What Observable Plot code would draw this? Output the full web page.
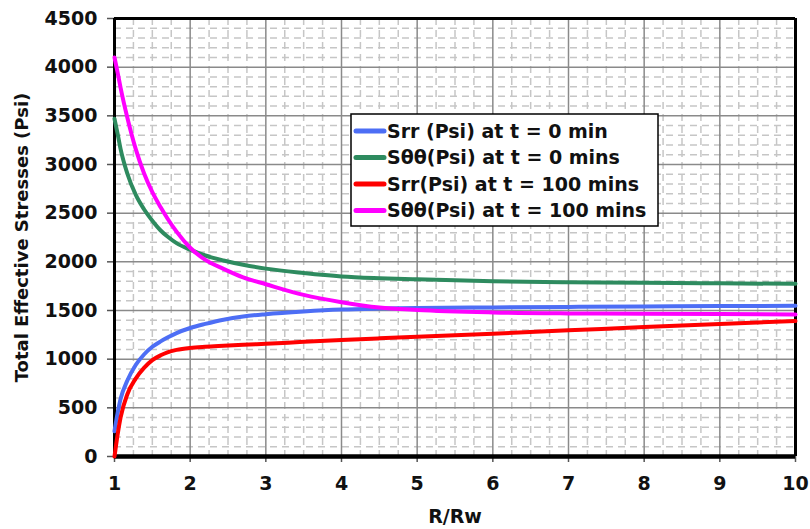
<!DOCTYPE html>
<html><head><meta charset="utf-8">
<script src="https://cdn.jsdelivr.net/npm/d3@7"></script>
<script src="https://cdn.jsdelivr.net/npm/@observablehq/plot@0.6"></script>
<style>body{margin:0;background:#fff;} #chart{width:810px;height:529px;}</style>
</head><body><div id="chart"></div>
<script>
// R/Rw sample positions shared by all four series
const r = [1, 1.04, 1.08, 1.17, 1.28, 1.39, 1.5, 1.61, 1.7, 1.82, 2, 2.2, 2.44, 2.7, 3, 3.5, 4, 4.5, 5, 6, 7, 8, 9, 10];
const srr0   = [260, 440, 590, 780, 940, 1048, 1127, 1183, 1222, 1268, 1320, 1362, 1405, 1438, 1462, 1490, 1510, 1520, 1526, 1532, 1537, 1541, 1545, 1548];
const stt0   = [3470, 3320, 3160, 2905, 2690, 2540, 2422, 2322, 2260, 2192, 2125, 2065, 2014, 1970, 1930, 1885, 1850, 1832, 1820, 1800, 1790, 1784, 1779, 1774];
const srr100 = [0, 220, 400, 640, 800, 910, 990, 1040, 1070, 1095, 1116, 1128, 1138, 1148, 1158, 1178, 1197, 1214, 1230, 1262, 1296, 1330, 1362, 1392];
const stt100 = [4100, 3950, 3790, 3480, 3160, 2910, 2715, 2560, 2445, 2310, 2145, 2020, 1928, 1840, 1770, 1660, 1585, 1530, 1505, 1480, 1470, 1466, 1463, 1460];

const seriesNames  = ["Srr (Psi) at t = 0 min", "Sθθ(Psi) at t = 0 mins", "Srr(Psi) at t = 100 mins", "Sθθ(Psi) at t = 100 mins"];
const seriesColors = ["#4d6ef5", "#2e8b5f", "#ff0000", "#ff00ff"];
const xTicks = [1, 2, 3, 4, 5, 6, 7, 8, 9, 10];
const yTicks = [0, 500, 1000, 1500, 2000, 2500, 3000, 3500, 4000, 4500];
const xTitle = "R/Rw";
const yTitle = "Total Effective Stresses (Psi)";

const data = [];
[srr0, stt0, srr100, stt100].forEach((vals, i) =>
  vals.forEach((v, j) => data.push({r: r[j], s: v, series: seriesNames[i]})));

const minorX = d3.range(1, 10.001, 0.25).filter(v => !Number.isInteger(v));
const minorY = d3.range(0, 4501, 100).filter(v => v % 500 !== 0);

const chart = Plot.plot({
  width: 810, height: 529,
  marginLeft: 114, marginRight: 15, marginTop: 18, marginBottom: 73,
  style: {fontFamily: "'DejaVu Sans', Verdana, sans-serif", fontWeight: "bold", fontSize: "19px", color: "#111", background: "#fff", overflow: "visible"},
  x: {domain: [1, 10]},
  y: {domain: [0, 4500]},
  color: {domain: seriesNames, range: seriesColors},
  marks: [
    Plot.ruleX(minorX, {stroke: "#c6c6c6", strokeWidth: 1.5, strokeDasharray: "7,5"}),
    Plot.ruleY(minorY, {stroke: "#c6c6c6", strokeWidth: 1.5, strokeDasharray: "7,5"}),
    Plot.ruleX(xTicks.slice(1, -1), {stroke: "#8a8a8a", strokeWidth: 1.5}),
    Plot.ruleY(yTicks.slice(1, -1), {stroke: "#8a8a8a", strokeWidth: 1.5}),
    Plot.axisX({ticks: xTicks, tickSize: 6, tickPadding: 14, stroke: "#555", strokeWidth: 1.5, label: null, fontSize: 19, tickFormat: d => String(d)}),
    Plot.axisY({ticks: yTicks, tickSize: 7, tickPadding: 10, stroke: "#555", strokeWidth: 1.5, label: null, fontSize: 19, tickFormat: d => String(d)}),
    Plot.ruleY([4500], {stroke: "#000", strokeWidth: 3}),
    Plot.ruleX([10], {stroke: "#000", strokeWidth: 3}),
    Plot.ruleX([1], {stroke: "#000", strokeWidth: 3}),
    Plot.ruleY([0], {stroke: "#000", strokeWidth: 4.5}),
    Plot.line(data, {x: "r", y: "s", stroke: "series", strokeWidth: 4, curve: "monotone-x"}),
    Plot.text([yTitle], {frameAnchor: "left", dx: -92, rotate: -90, textAnchor: "middle", fontSize: 18, fontWeight: 700, fill: "#111"}),
    Plot.text([xTitle], {frameAnchor: "bottom", dy: 66, lineAnchor: "bottom", textAnchor: "middle", fontSize: 19, fontWeight: "bold", fill: "#111"})
  ]
});
document.getElementById("chart").appendChild(chart);

// Legend box inside the plot area
const svg = d3.select(chart);
const lg = svg.append("g").attr("text-anchor", "start");
lg.append("rect").attr("x", 351).attr("y", 114).attr("width", 307).attr("height", 112)
  .attr("fill", "#fff").attr("stroke", "#000").attr("stroke-width", 1.5);
seriesNames.forEach((name, i) => {
  const y = 131 + i * 26.5;
  lg.append("line").attr("x1", 356).attr("x2", 384).attr("y1", y).attr("y2", y)
    .attr("stroke", seriesColors[i]).attr("stroke-width", 5).attr("stroke-linecap", "round");
  lg.append("text").attr("x", 387).attr("y", y).attr("dy", "0.35em").attr("text-anchor", "start")
    .attr("font-size", 19).attr("font-weight", "bold").attr("fill", "#111").text(name);
});
</script>
</body></html>
